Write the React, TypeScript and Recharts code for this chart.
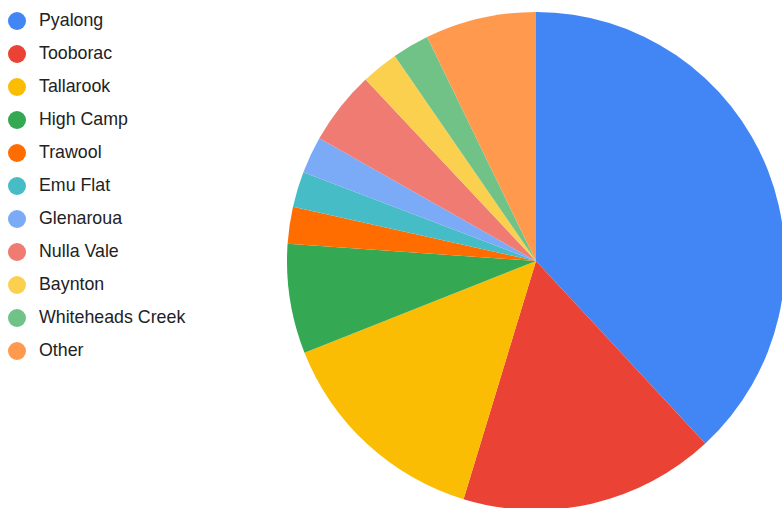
import { PieChart, Pie, Cell } from "recharts";

const names = ["Pyalong", "Tooborac", "Tallarook", "High Camp", "Trawool", "Emu Flat", "Glenaroua", "Nulla Vale", "Baynton", "Whiteheads Creek", "Other"];
const values = [38.1, 16.6, 14.3, 7.1, 2.4, 2.3, 2.4, 4.8, 2.4, 2.4, 7.2];
const colors = ["#4285F4", "#EA4335", "#FBBC04", "#34A853", "#FF6D01", "#46BDC6", "#7BAAF7", "#F07B72", "#FCD04F", "#71C287", "#FF994D"];

const data = names.map((name, i) => ({ name, value: values[i] }));

const LegendList = () => (
  <div style={{ position: "absolute", left: 0, top: 4, fontFamily: "Arial, 'Liberation Sans', sans-serif", fontSize: 17.8, color: "#222" }}>
    {names.map((n, i) => (
      <div key={n} style={{ display: "flex", alignItems: "center", height: 33 }}>
        <span style={{ width: 18, height: 18, borderRadius: 9, background: colors[i], marginLeft: 8, marginRight: 13, flexShrink: 0 }} />
        <span>{n}</span>
      </div>
    ))}
  </div>
);

export default function App() {
  return (
    <div style={{ position: "absolute", left: 0, top: 0, width: 782, height: 508, background: "#fff", overflow: "hidden" }}>
      <PieChart width={782} height={508} margin={{ top: 0, right: 0, bottom: 0, left: 0 }}>
        <Pie data={data} dataKey="value" nameKey="name" cx={536} cy={261} outerRadius={249} startAngle={90} endAngle={-270} stroke="none" isAnimationActive={false}>
          {data.map((d, i) => <Cell key={d.name} fill={colors[i]} />)}
        </Pie>
      </PieChart>
      <LegendList />
    </div>
  );
}
